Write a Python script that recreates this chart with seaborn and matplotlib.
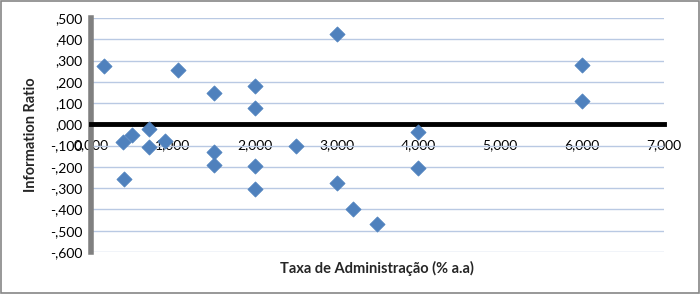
import matplotlib
matplotlib.use("Agg")
import matplotlib.pyplot as plt
import matplotlib.ticker as mticker
from matplotlib.patches import Rectangle
import seaborn as sns
import pandas as pd

taxa = [0.16, 0.39, 0.50, 0.71, 0.71, 0.90, 0.40, 1.06, 1.50, 1.50, 1.50,
        2.00, 2.00, 2.00, 2.00, 2.50, 3.00, 3.00, 3.20, 3.50, 4.00, 4.00,
        6.00, 6.00]
info_ratio = [0.274, -0.082, -0.050, -0.022, -0.106, -0.078, -0.257, 0.256,
              0.148, -0.130, -0.190, 0.180, 0.077, -0.195, -0.303, -0.101,
              0.425, -0.275, -0.400, -0.470, -0.036, -0.205, 0.280, 0.110]
x_label = "Taxa de Administração (% a.a)"
y_label = "Information Ratio"

df = pd.DataFrame({"taxa": taxa, "ir": info_ratio})

sns.set_style("white")
plt.rcParams["font.family"] = ["Lato", "DejaVu Sans"]

fig = plt.figure(figsize=(7.0, 2.94), dpi=100)
ax = fig.add_axes([91/700, 1-252/294, (664-91)/700, (252-18)/294])

sns.scatterplot(data=df, x="taxa", y="ir", marker="D", s=60, color="#4F81BD",
                edgecolor="#4F81BD", linewidth=0.5, ax=ax, zorder=5)

ax.set_xlim(0, 7)
ax.set_ylim(-0.6, 0.5)
ax.set_xticks([0, 1, 2, 3, 4, 5, 6, 7])
ax.set_yticks([-0.6, -0.5, -0.4, -0.3, -0.2, -0.1, 0.0, 0.1, 0.2, 0.3, 0.4, 0.5])


def yfmt(v, pos):
    s = f"{abs(v):.3f}".replace(".", ",")
    s = s.lstrip("0") if s.startswith("0") else s
    if round(v, 3) < 0:
        s = "-" + s
    return s


def xfmt(v, pos):
    return f"{v:.3f}".replace(".", ",")


ax.yaxis.set_major_formatter(mticker.FuncFormatter(yfmt))
ax.xaxis.set_major_formatter(mticker.FuncFormatter(xfmt))

ax.grid(axis="y", color="#b9c9e3", linewidth=1.0)
ax.grid(axis="x", visible=False)
ax.set_axisbelow(True)

for s in ["top", "right"]:
    ax.spines[s].set_visible(False)
ax.spines["bottom"].set_position(("data", 0))
ax.spines["bottom"].set_color("black")
ax.spines["bottom"].set_linewidth(3.5)
ax.spines["bottom"].set_zorder(3)
ax.spines["left"].set_color("#808080")
ax.spines["left"].set_linewidth(4)

ax.tick_params(axis="x", direction="in", length=5, width=3, color="black",
               labelsize=10, pad=11, labelcolor="black")
ax.tick_params(axis="y", length=0, labelsize=10, pad=6, labelcolor="black")

ax.set_xlabel("")
ax.set_ylabel("")
fig.text(377/700, 1-268/294, x_label, ha="center", va="center",
         fontsize=10.5, fontweight="bold")
fig.text(31/700, 1-135/294, y_label, ha="center", va="center",
         rotation=90, fontsize=10.5, fontweight="bold")

fig.patches.append(Rectangle((0.001, 0.002), 0.997, 0.995, transform=fig.transFigure,
                             fill=False, edgecolor="#868686", linewidth=1.2))

fig.savefig("out.png", dpi=100, facecolor="white")
